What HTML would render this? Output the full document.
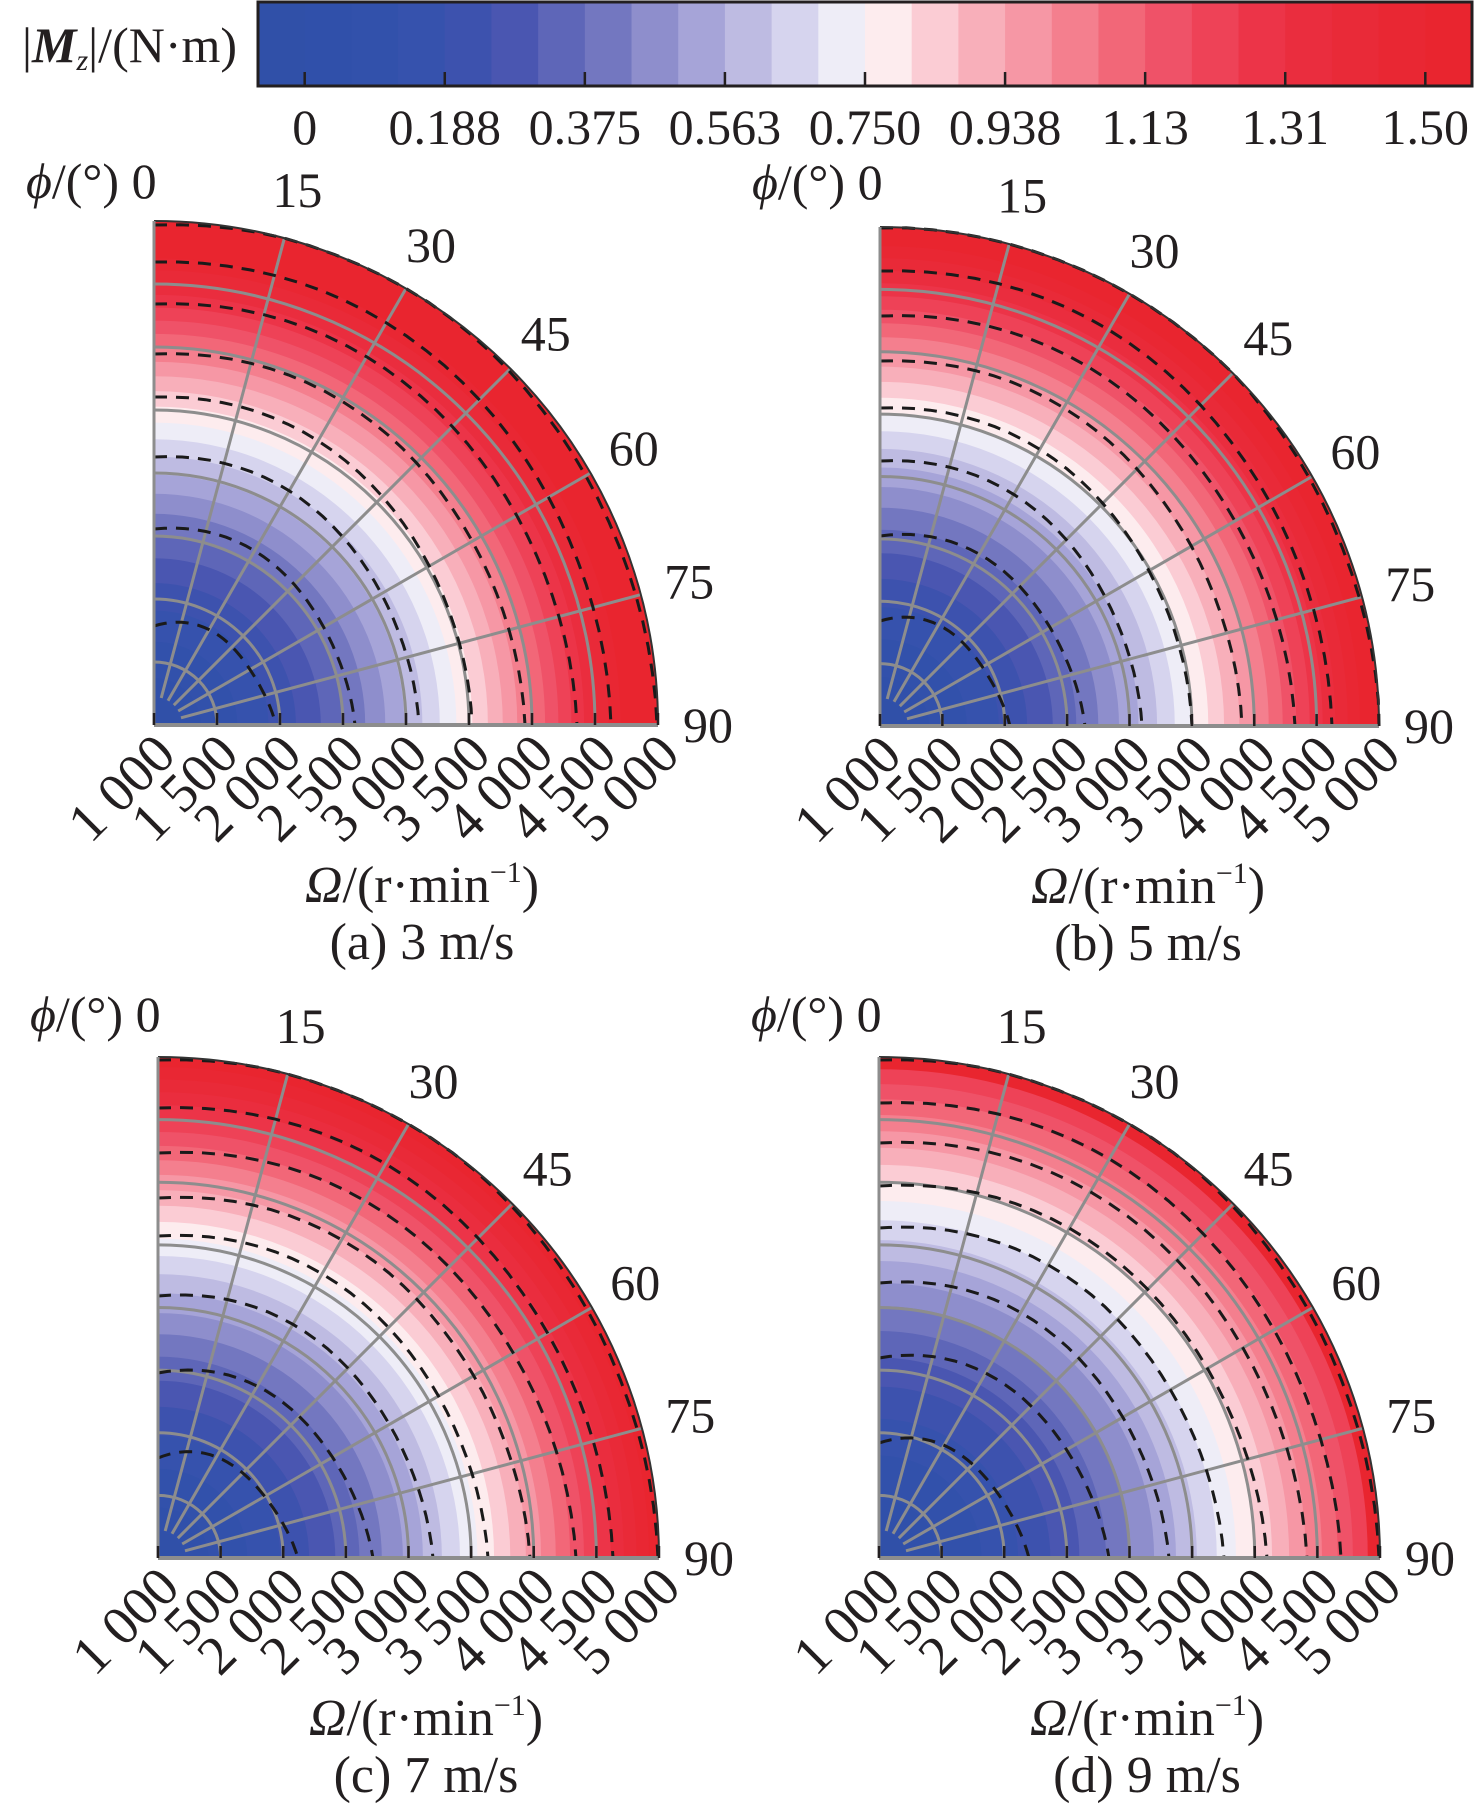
<!DOCTYPE html>
<html><head><meta charset="utf-8"><style>
html,body{margin:0;padding:0;background:#fff;}
svg{display:block;}
text{font-family:"Liberation Serif",serif;fill:#231f20;}
</style></head><body>
<svg id="s" width="1476" height="1813" viewBox="0 0 1476 1813" xmlns="http://www.w3.org/2000/svg"></svg>
<script>
var cols=["#3050a8","#3050aa","#3251ab","#3652ad","#3d52ae","#4a56b1","#5e66b8","#7377c0","#8e8ecc","#a6a4d8","#bebbe2","#d6d4ee","#eeedf7","#fdecee","#fbccd4","#f8afba","#f697a5","#f47f8e","#f26778","#ef5268","#ee4257","#ec3448","#ea2d3e","#e92a38","#e92733","#e9252f"];
var s=document.getElementById('s');var h='';
var bx=258,bw=1214,sw=bw/26;
for(var i=0;i<26;i++)h+='<rect x="'+(bx+i*sw).toFixed(2)+'" y="2" width="'+(sw+0.6).toFixed(2)+'" height="84" fill="'+cols[i]+'"/>';
h+='<rect x="'+bx+'" y="2" width="'+bw+'" height="84" fill="none" stroke="#231f20" stroke-width="3"/>';
var tl=["0","0.188","0.375","0.563","0.750","0.938","1.13","1.31","1.50"];
for(var i=0;i<9;i++){var x=bx+sw*(1+3*i);h+='<line x1="'+x+'" y1="86" x2="'+x+'" y2="72" stroke="#231f20" stroke-width="2.5"/>';
h+='<text x="'+x+'" y="144" font-size="50" text-anchor="middle">'+tl[i]+'</text>';}
h+='<text x="22" y="62" font-size="50">|<tspan font-weight="bold" font-style="italic">M</tspan><tspan font-style="italic" font-size="30" dy="8">z</tspan><tspan dy="-8">|/(N·m)</tspan></text>';
function rOf(v,w,R){var O=Math.sqrt(v/0.75*(w*w-1e6)+1e6);return (O-1000)/4000*R;}
function qd(cx,cy,r,fill){return '<path d="M'+cx+','+cy+' L'+cx+','+(cy-r).toFixed(1)+' A'+r.toFixed(1)+','+r.toFixed(1)+' 0 0 1 '+(cx+r).toFixed(1)+','+cy+' Z" fill="'+fill+'"/>';}
var panels=[
 {cx:154,cy:725,R:504,w:3400,lab:"(a) 3 m/s",d:[[500,503],[463,457],[421,423],[371,371],[328,318],[268,265],[196,201],[99,122]]},
 {cx:880,cy:726,R:499,w:3500,lab:"(b) 5 m/s",d:[[498,500],[455,452],[410,415],[365,362],[318,312],[265,262],[190,205],[105,130]]},
 {cx:158,cy:1558,R:501,w:3550,lab:"(c) 7 m/s",d:[[498,500],[450,455],[405,418],[360,372],[322,330],[262,275],[185,215],[100,140]]},
 {cx:879,cy:1558,R:501,w:3850,lab:"(d) 9 m/s",d:[[498,500],[455,462],[415,428],[372,388],[330,345],[275,290],[200,230],[115,150]]}];
panels.forEach(function(p){
 var cx=p.cx,cy=p.cy,R=p.R;
 h+=qd(cx,cy,R,cols[25]);
 for(var i=24;i>=1;i--){var r=rOf(0.0625*(i),p.w,R);if(r<R&&r>0)h+=qd(cx,cy,r,cols[i]);}
 for(var k=1;k<8;k++){var r=R*k/8;h+='<path d="M'+cx+','+(cy-r)+' A'+r+','+r+' 0 0 1 '+(cx+r)+','+cy+'" fill="none" stroke="#8d8d8d" stroke-width="3"/>';}
 for(var a=15;a<90;a+=15){var t=a*Math.PI/180;h+='<line x1="'+(cx+28*Math.sin(t)).toFixed(1)+'" y1="'+(cy-28*Math.cos(t)).toFixed(1)+'" x2="'+(cx+R*Math.sin(t)).toFixed(1)+'" y2="'+(cy-R*Math.cos(t)).toFixed(1)+'" stroke="#8d8d8d" stroke-width="3"/>';}
 p.d.forEach(function(d){var pts=[];for(var a=0;a<=90;a+=3){var t=a*Math.PI/180;var r=d[0]+(d[1]-d[0])*a/90+Math.sin(a*Math.PI/45)*4;if(r>R)r=R;pts.push((cx+r*Math.sin(t)).toFixed(1)+','+(cy-r*Math.cos(t)).toFixed(1));}
  h+='<polyline points="'+pts.join(' ')+'" fill="none" stroke="#1a1a1a" stroke-width="3" stroke-dasharray="13 9"/>';});
 h+=qd(cx,cy,26,"#3050a8");
 h+='<path d="M'+cx+','+(cy-R)+' A'+R+','+R+' 0 0 1 '+(cx+R)+','+cy+'" fill="none" stroke="#333" stroke-width="2"/>';
 h+='<line x1="'+cx+'" y1="'+(cy-R)+'" x2="'+cx+'" y2="'+cy+'" stroke="#8d8d8d" stroke-width="3"/>';
 h+='<line x1="'+cx+'" y1="'+cy+'" x2="'+(cx+R)+'" y2="'+cy+'" stroke="#8d8d8d" stroke-width="4"/>';
 for(var k=0;k<=8;k++){var x=cx+R*k/8;h+='<line x1="'+x+'" y1="'+cy+'" x2="'+x+'" y2="'+(cy-12)+'" stroke="#231f20" stroke-width="2.5"/>';}
 h+='<text x="'+(cx-128)+'" y="'+(cy-527)+'" font-size="50"><tspan font-style="italic">ϕ</tspan>/(°) 0</text>';
 [15,30,45,60,75,90].forEach(function(a){var t=a*Math.PI/180,rr=R+50;var x=cx+rr*Math.sin(t),y=cy-rr*Math.cos(t)+17;
  h+='<text x="'+x.toFixed(1)+'" y="'+y.toFixed(1)+'" font-size="50" text-anchor="middle">'+a+'</text>';});
 var rl=["1 000","1 500","2 000","2 500","3 000","3 500","4 000","4 500","5 000"];
 for(var k=0;k<=8;k++){var x=cx+R*k/8+24,y=cy+32;h+='<text x="'+x.toFixed(1)+'" y="'+y+'" font-size="55" text-anchor="end" transform="rotate(-45 '+x.toFixed(1)+' '+y+')">'+rl[k]+'</text>';}
 h+='<text x="'+(cx+268)+'" y="'+(cy+177)+'" font-size="52" text-anchor="middle"><tspan font-style="italic">Ω</tspan>/(r·min<tspan font-size="30" dy="-20">−1</tspan><tspan dy="20">)</tspan></text>';
 h+='<text x="'+(cx+268)+'" y="'+(cy+234)+'" font-size="52" text-anchor="middle">'+p.lab+'</text>';
});
s.innerHTML=h;
</script>
</body></html>
